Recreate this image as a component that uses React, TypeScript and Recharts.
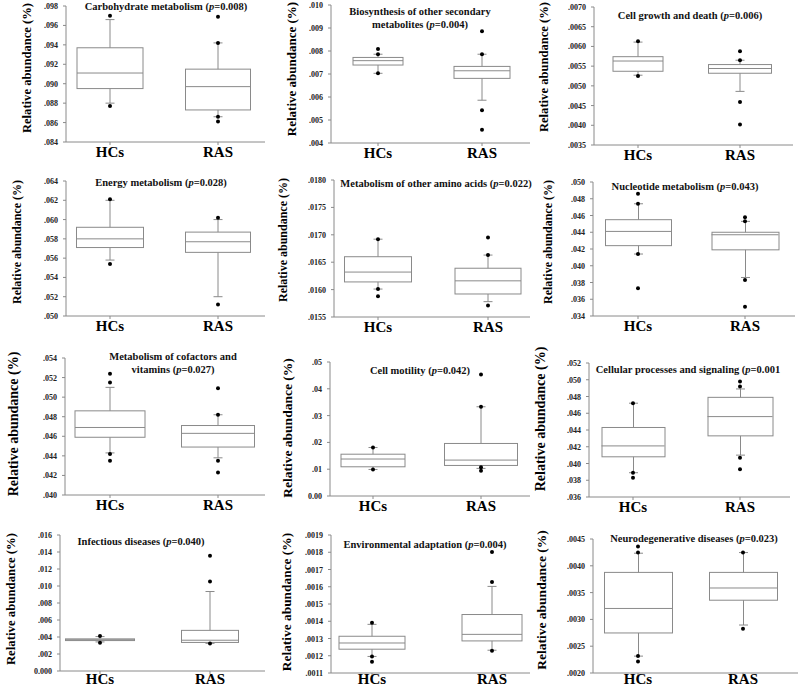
import React from 'react';
import { ComposedChart, XAxis, YAxis, Bar, Scatter } from 'recharts';

const GROUPS = ['HCs', 'RAS'];

// box stats per group: [lower whisker, Q1, median, Q3, upper whisker]
const carbStats = [[0.088, 0.0895, 0.0911, 0.0937, 0.0966], [0.0866, 0.0873, 0.0897, 0.0915, 0.0942]];
const carbPoints = [[0.097, 0.0877], [0.0969, 0.0942, 0.0866, 0.0861]];
const carbTicks = [0.084, 0.086, 0.088, 0.09, 0.092, 0.094, 0.096, 0.098];

const bioStats = [[0.00703, 0.00739, 0.00758, 0.00772, 0.00786], [0.00586, 0.00681, 0.00714, 0.00733, 0.00786]];
const bioPoints = [[0.00809, 0.00786, 0.00703], [0.00886, 0.00786, 0.00542, 0.00458]];
const bioTicks = [0.004, 0.005, 0.006, 0.007, 0.008, 0.009, 0.01];

const growthStats = [[0.00527, 0.00537, 0.00563, 0.00574, 0.00611], [0.00486, 0.00532, 0.00544, 0.00554, 0.00565]];
const growthPoints = [[0.00613, 0.00525], [0.00588, 0.00565, 0.00459, 0.00402]];
const growthTicks = [0.0035, 0.004, 0.0045, 0.005, 0.0055, 0.006, 0.0065, 0.007];

const energyStats = [[0.0558, 0.0571, 0.058, 0.0592, 0.062], [0.052, 0.0566, 0.0577, 0.0587, 0.06]];
const energyPoints = [[0.0621, 0.0554], [0.0602, 0.0512]];
const energyTicks = [0.05, 0.052, 0.054, 0.056, 0.058, 0.06, 0.062, 0.064];

const aminoStats = [[0.01601, 0.01614, 0.01632, 0.0166, 0.01692], [0.01578, 0.01592, 0.01616, 0.01639, 0.01663]];
const aminoPoints = [[0.01692, 0.01601, 0.01588], [0.01695, 0.01663, 0.01571]];
const aminoTicks = [0.0155, 0.016, 0.0165, 0.017, 0.0175, 0.018];

const nucStats = [[0.0414, 0.0424, 0.0441, 0.0455, 0.0474], [0.0386, 0.0419, 0.0437, 0.044, 0.0453]];
const nucPoints = [[0.0486, 0.0474, 0.0414, 0.0373], [0.0458, 0.0453, 0.0383, 0.0351]];
const nucTicks = [0.034, 0.036, 0.038, 0.04, 0.042, 0.044, 0.046, 0.048, 0.05];

const cofStats = [[0.0443, 0.0459, 0.0469, 0.0486, 0.051], [0.0438, 0.0449, 0.0463, 0.0471, 0.0482]];
const cofPoints = [[0.0524, 0.0515, 0.0442, 0.0435], [0.0509, 0.0482, 0.0435, 0.0423]];
const cofTicks = [0.04, 0.042, 0.044, 0.046, 0.048, 0.05, 0.052, 0.054];

const motStats = [[0.0099, 0.0109, 0.0138, 0.0156, 0.0181], [0.0103, 0.0114, 0.0134, 0.0196, 0.0333]];
const motPoints = [[0.0181, 0.0099], [0.0453, 0.0333, 0.0107, 0.0094]];
const motTicks = [0, 0.01, 0.02, 0.03, 0.04, 0.05];

const cellStats = [[0.0389, 0.0408, 0.0421, 0.0443, 0.0472], [0.041, 0.0433, 0.0456, 0.0479, 0.0489]];
const cellPoints = [[0.0472, 0.0389, 0.0383], [0.0498, 0.0492, 0.0407, 0.0393]];
const cellTicks = [0.036, 0.038, 0.04, 0.042, 0.044, 0.046, 0.048, 0.05, 0.052];

const infStats = [[0.00342, 0.00358, 0.00368, 0.00378, 0.00405], [0.00325, 0.00336, 0.00362, 0.00478, 0.00935]];
const infPoints = [[0.00413, 0.00332], [0.01356, 0.01054, 0.00325]];
const infTicks = [0, 0.002, 0.004, 0.006, 0.008, 0.01, 0.012, 0.014, 0.016];

const envStats = [[0.001196, 0.001238, 0.001274, 0.001313, 0.001382], [0.001232, 0.001286, 0.001324, 0.001439, 0.001602]];
const envPoints = [[0.001391, 0.001196, 0.001165], [0.001802, 0.001627, 0.001229]];
const envTicks = [0.0011, 0.0012, 0.0013, 0.0014, 0.0015, 0.0016, 0.0017, 0.0018, 0.0019];

const neuroStats = [[0.002315, 0.002747, 0.003204, 0.003877, 0.004235], [0.002895, 0.003358, 0.003586, 0.003877, 0.004247]];
const neuroPoints = [[0.004358, 0.004247, 0.002315, 0.002216], [0.004247, 0.002827]];
const neuroTicks = [0.002, 0.0025, 0.003, 0.0035, 0.004, 0.0045];

const panels = [
  { title: ['Carbohydrate metabolism'], p: '0.008', stats: carbStats, points: carbPoints, ticks: carbTicks, digits: 3 },
  { title: ['Biosynthesis of other secondary', 'metabolites'], p: '0.004', stats: bioStats, points: bioPoints, ticks: bioTicks, digits: 3 },
  { title: ['Cell growth and death'], p: '0.006', stats: growthStats, points: growthPoints, ticks: growthTicks, digits: 4 },
  { title: ['Energy metabolism'], p: '0.028', stats: energyStats, points: energyPoints, ticks: energyTicks, digits: 3 },
  { title: ['Metabolism of other amino acids'], p: '0.022', stats: aminoStats, points: aminoPoints, ticks: aminoTicks, digits: 4 },
  { title: ['Nucleotide metabolism'], p: '0.043', stats: nucStats, points: nucPoints, ticks: nucTicks, digits: 3 },
  { title: ['Metabolism of cofactors and', 'vitamins'], p: '0.027', stats: cofStats, points: cofPoints, ticks: cofTicks, digits: 3 },
  { title: ['Cell motility'], p: '0.042', stats: motStats, points: motPoints, ticks: motTicks, digits: 2 },
  { title: ['Cellular processes and signaling'], p: '0.001', open: true, stats: cellStats, points: cellPoints, ticks: cellTicks, digits: 3 },
  { title: ['Infectious diseases'], p: '0.040', stats: infStats, points: infPoints, ticks: infTicks, digits: 3 },
  { title: ['Environmental adaptation'], p: '0.004', stats: envStats, points: envPoints, ticks: envTicks, digits: 4 },
  { title: ['Neurodegenerative diseases'], p: '0.023', stats: neuroStats, points: neuroPoints, ticks: neuroTicks, digits: 4 },
];

// page layout: plot box (x0,y0,x1,y1), group centres, box widths, title and y-label placement,
// xo = baseline offset of the HCs/RAS labels below the tick
const LAYOUT = [
  { x0: 66, y0: 6, x1: 265, y1: 142, c: [110, 218], w: [66, 65], tx: 166, ty: 7, lx: 27, ly: 68, lf: 12.6, xo: 10 },
  { x0: 331, y0: 5, x1: 530, y1: 143, c: [378, 482], w: [50, 56], tx: 420, ty: 12, lx: 292, ly: 69, lf: 13, xo: 10 },
  { x0: 594, y0: 7, x1: 793, y1: 145, c: [638, 740], w: [50, 63], tx: 690, ty: 16, lx: 544, ly: 67, lf: 12.6, xo: 10 },
  { x0: 66, y0: 181, x1: 265, y1: 316, c: [110, 218], w: [67, 65], tx: 161, ty: 183, lx: 17, ly: 242, lf: 12, xo: 10 },
  { x0: 334, y0: 180, x1: 530, y1: 317, c: [378, 488], w: [67, 66], tx: 436, ty: 184, lx: 283, ly: 240, lf: 12, xo: 10 },
  { x0: 593, y0: 182, x1: 795, y1: 316, c: [638, 745], w: [66, 67], tx: 685, ty: 187, lx: 548, ly: 242, lf: 12, xo: 10 },
  { x0: 65, y0: 358, x1: 265, y1: 495, c: [110, 218], w: [70, 73], tx: 173, ty: 357, lx: 14, ly: 424, lf: 14, xo: 10 },
  { x0: 330, y0: 362, x1: 530, y1: 496, c: [373, 481], w: [64, 73], tx: 420, ty: 371, lx: 288, ly: 428, lf: 13.5, xo: 10 },
  { x0: 589, y0: 363, x1: 790, y1: 497, c: [633, 740], w: [63, 65], tx: 688, ty: 370, lx: 541, ly: 419, lf: 14, xo: 10 },
  { x0: 60, y0: 535, x1: 265, y1: 671, c: [100, 210], w: [69, 57], tx: 141, ty: 542, lx: 11, ly: 599, lf: 12.8, xo: 8 },
  { x0: 331, y0: 535, x1: 530, y1: 673, c: [372, 492], w: [66, 60], tx: 425, ty: 545, lx: 287, ly: 602, lf: 13.4, xo: 6 },
  { x0: 593, y0: 539, x1: 798, y1: 673, c: [638, 743], w: [68, 68], tx: 694, ty: 539, lx: 542, ly: 600, lf: 13.5, xo: 6 },
];

const LINE = '#8a8a8a';
const FONT = '"Liberation Serif", "Times New Roman", serif';
const CAP = 9;

const fmt = (v: number, digits: number) => {
  const s = v.toFixed(digits);
  return v === 0 ? s : s.replace(/^0/, '');
};

const xTick = (offset: number) => (props: any) => {
  const { x, y, payload } = props;
  return (
    <text x={x} y={y + offset} textAnchor="middle" fontSize={15} fontWeight={700} fill="#000" fontFamily={FONT}>
      {GROUPS[payload.value]}
    </text>
  );
};

const yTick = (digits: number) => (props: any) => {
  const { x, y, payload } = props;
  return (
    <text x={x} y={y + 3} textAnchor="end" fontSize={8} fontWeight={700} fill="#222" fontFamily={FONT}>
      {fmt(payload.value, digits)}
    </text>
  );
};

function BoxPanel({ panel, lay }: { panel: any; lay: any }) {
  const rows = GROUPS.map((g, i) => {
    const [lo, q1, med, q3, hi] = panel.stats[i];
    return { x: i, name: g, lo, q1, med, q3, hi };
  });
  const dots = panel.points.flatMap((vals: number[], i: number) => vals.map((v) => ({ x: i, y: v })));

  const unit = lay.c[1] - lay.c[0];
  const domain = [-(lay.c[0] - lay.x0) / unit, 1 + (lay.x1 - lay.c[1]) / unit];
  const ML = 50;
  const MT = 8;
  const XH = 26;
  const width = lay.x1 - lay.x0 + ML + 4;
  const height = lay.y1 - lay.y0 + MT + XH;
  const ticks = panel.ticks;

  const whisker = (props: any) => {
    const { x, y, width: bw, height: bh } = props;
    const cx = x + bw / 2;
    const top = Math.min(y, y + bh);
    const bot = Math.max(y, y + bh);
    return (
      <g stroke={LINE} strokeWidth={1}>
        <line x1={cx} x2={cx} y1={top} y2={bot} />
        <line x1={cx - CAP / 2} x2={cx + CAP / 2} y1={top} y2={top} />
        <line x1={cx - CAP / 2} x2={cx + CAP / 2} y1={bot} y2={bot} />
      </g>
    );
  };

  const box = (props: any) => {
    const { x, y, width: bw, height: bh, payload } = props;
    const cx = x + bw / 2;
    const w = lay.w[payload.x];
    const top = Math.min(y, y + bh);
    const h = Math.abs(bh);
    return <rect x={cx - w / 2} y={top} width={w} height={h} fill="#fff" stroke={LINE} strokeWidth={1} />;
  };

  const median = (props: any) => {
    const { cx, cy, payload } = props;
    const w = lay.w[payload.x];
    return <line x1={cx - w / 2} x2={cx + w / 2} y1={cy} y2={cy} stroke={LINE} strokeWidth={1} />;
  };

  const dot = (props: any) => <circle cx={props.cx} cy={props.cy} r={2} fill="#000" />;

  return (
    <div style={{ position: 'absolute', left: lay.x0 - ML, top: lay.y0 - MT }}>
      <ComposedChart width={width} height={height} data={rows} margin={{ top: MT, right: 4, bottom: 0, left: 0 }}>
        <XAxis
          xAxisId="main"
          type="number"
          dataKey="x"
          domain={domain}
          ticks={[0, 1]}
          allowDataOverflow
          height={XH}
          axisLine={{ stroke: LINE }}
          tickLine={{ stroke: LINE }}
          tickSize={3}
          tick={xTick(lay.xo)}
        />
        <XAxis
          xAxisId="box"
          type="number"
          dataKey="x"
          domain={domain}
          ticks={[0, 1]}
          allowDataOverflow
          orientation="top"
          height={0}
          hide
        />
        <YAxis
          width={ML}
          domain={[ticks[0], ticks[ticks.length - 1]]}
          ticks={ticks}
          allowDataOverflow
          interval={0}
          axisLine={{ stroke: LINE }}
          tickLine={{ stroke: LINE }}
          tickSize={3}
          tickMargin={5}
          tick={yTick(panel.digits)}
        />
        <Bar xAxisId="main" dataKey={(d: any) => [d.lo, d.hi]} barSize={40} shape={whisker} isAnimationActive={false} />
        <Bar xAxisId="box" dataKey={(d: any) => [d.q1, d.q3]} barSize={40} shape={box} isAnimationActive={false} />
        <Scatter xAxisId="main" dataKey="med" shape={median} isAnimationActive={false} />
        <Scatter xAxisId="main" data={dots} dataKey="y" shape={dot} isAnimationActive={false} />
      </ComposedChart>
    </div>
  );
}

export default function App() {
  return (
    <div
      style={{
        position: 'absolute',
        left: 0,
        top: 0,
        width: 800,
        height: 689,
        background: '#fff',
        fontFamily: FONT,
        overflow: 'hidden',
      }}
    >
      {panels.map((panel, i) => (
        <BoxPanel key={i} panel={panel} lay={LAYOUT[i]} />
      ))}
      {panels.map((panel, i) => {
        const lay = LAYOUT[i];
        return (
          <div
            key={'t' + i}
            style={{
              position: 'absolute',
              left: lay.tx,
              top: lay.ty - 7,
              transform: 'translateX(-50%)',
              textAlign: 'center',
              fontWeight: 700,
              fontSize: 10.5,
              lineHeight: '13px',
              whiteSpace: 'nowrap',
              color: '#111',
            }}
          >
            {panel.title.map((line: string, j: number) => (
              <div key={j}>
                {line}
                {j === panel.title.length - 1 && (
                  <>
                    {' ('}
                    <i>p</i>={panel.p}
                    {panel.open ? '' : ')'}
                  </>
                )}
              </div>
            ))}
          </div>
        );
      })}
      {LAYOUT.map((lay, i) => (
        <div
          key={'y' + i}
          style={{
            position: 'absolute',
            left: lay.lx,
            top: lay.ly,
            transform: 'translate(-50%, -50%) rotate(-90deg)',
            fontWeight: 700,
            fontSize: lay.lf,
            whiteSpace: 'nowrap',
            color: '#000',
          }}
        >
          Relative abundance (%)
        </div>
      ))}
    </div>
  );
}
